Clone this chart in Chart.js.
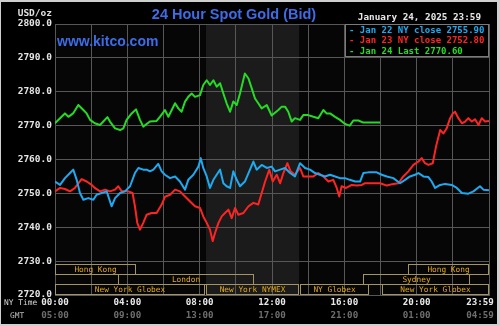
<!DOCTYPE html>
<html>
<head>
<meta charset="utf-8">
<script src="https://cdn.jsdelivr.net/npm/chart.js@4/dist/chart.umd.min.js"></script>
<style>
  html, body { margin: 0; padding: 0; background: #000; }
  #wrap { width: 500px; height: 326px; }
</style>
</head>
<body>
<div id="wrap"><canvas id="c" width="500" height="326"></canvas></div>
<script>
// ---------------- DATA (hours in NY time, price in USD/oz) ----------------
const blueT = [0,0.28,0.55,0.83,1.01,1.2,1.38,1.57,1.84,2.12,2.3,2.58,2.86,3.13,3.32,3.6,3.87,4.15,4.42,4.61,4.88,5.07,5.25,5.44,5.71,5.9,6.08,6.36,6.64,6.91,7.19,7.37,7.65,7.93,8.06,8.2,8.39,8.57,8.76,8.94,9.13,9.31,9.49,9.68,9.86,10.05,10.23,10.5,10.7,10.97,11.15,11.43,11.71,11.98,12.17,12.45,12.72,13.0,13.27,13.55,13.83,14.1,14.38,14.65,14.93,15.21,15.49,15.76,16.04,16.3,16.6,16.87,17.05,17.33,17.79,18.07,18.35,18.71,19.08,19.36,19.63,19.91,20.1,20.37,20.65,20.83,21.02,21.3,21.57,21.94,22.22,22.5,22.86,23.14,23.5,23.69,24];
const blueV = [2753.5,2752.5,2754.5,2756.0,2757.0,2754.0,2750.1,2748.1,2748.6,2748.1,2749.6,2750.1,2750.6,2746.2,2748.6,2750.1,2750.6,2752.1,2756.0,2757.5,2757.0,2757.0,2756.5,2757.0,2758.7,2756.5,2755.5,2754.5,2755.0,2753.5,2751.1,2754.0,2755.5,2757.9,2760.4,2757.5,2755.0,2751.6,2754.0,2755.5,2757.0,2753.0,2752.1,2751.6,2756.5,2754.0,2752.1,2753.5,2756.0,2759.4,2757.0,2758.4,2757.5,2757.9,2756.5,2757.0,2757.5,2756.0,2755.0,2758.9,2757.5,2757.0,2756.0,2755.5,2755.0,2755.5,2755.0,2754.5,2754.5,2754.0,2753.5,2753.5,2756.0,2756.2,2756.2,2755.5,2755.0,2754.5,2753.0,2754.0,2755.0,2755.5,2756.0,2755.0,2754.8,2753.5,2751.6,2752.5,2752.8,2752.5,2751.6,2750.1,2749.9,2750.6,2752.1,2751.1,2750.9];

const redT = [0,0.28,0.55,0.83,1.1,1.47,1.75,2.03,2.2,2.49,2.77,3.04,3.32,3.5,3.69,4.05,4.29,4.42,4.55,4.7,4.88,5.07,5.34,5.62,5.9,6.08,6.36,6.64,6.91,7.19,7.47,7.74,8.02,8.2,8.39,8.57,8.72,8.85,9.04,9.22,9.4,9.59,9.77,9.96,10.14,10.42,10.7,10.97,11.24,11.43,11.62,11.85,12.04,12.26,12.45,12.63,12.85,13.03,13.27,13.55,13.73,14.0,14.29,14.56,14.84,15.12,15.39,15.58,15.72,15.85,16.1,16.41,16.69,16.96,17.15,17.6,17.98,18.35,18.71,18.99,19.26,19.54,19.82,20.1,20.28,20.46,20.65,20.89,21.07,21.3,21.48,21.66,21.85,22.0,22.12,22.31,22.5,22.68,22.86,23.05,23.23,23.42,23.6,23.78,24];
const redV = [2750.6,2751.6,2751.3,2750.6,2751.6,2754.2,2753.5,2752.5,2751.6,2750.6,2751.1,2750.6,2751.1,2752.1,2750.6,2750.6,2750.1,2746.2,2741.3,2739.3,2741.3,2743.7,2744.2,2744.2,2746.7,2749.0,2749.6,2751.1,2750.6,2749.1,2747.6,2746.2,2745.7,2743.2,2741.3,2739.3,2735.9,2738.3,2741.3,2743.2,2744.2,2745.2,2742.7,2745.7,2743.7,2744.2,2746.2,2747.2,2746.7,2750.1,2753.5,2757.0,2753.5,2755.5,2753.0,2756.0,2758.9,2756.5,2755.5,2757.5,2755.0,2755.0,2755.0,2756.0,2755.0,2753.5,2754.0,2751.6,2749.1,2752.1,2751.6,2752.5,2752.3,2752.5,2753.0,2753.0,2753.0,2752.3,2752.8,2753.0,2755.0,2756.5,2758.4,2759.4,2760.4,2758.9,2758.4,2758.9,2763.8,2768.7,2767.7,2769.2,2772.2,2773.6,2774.1,2772.2,2770.7,2771.2,2772.2,2771.2,2771.9,2770.2,2772.2,2771.2,2771.4];

const greenT = [0,0.28,0.55,0.74,1.0,1.29,1.57,1.75,1.94,2.2,2.49,2.67,2.9,3.04,3.32,3.6,3.78,3.96,4.24,4.48,4.7,4.88,5.25,5.62,5.8,6.08,6.27,6.64,6.82,7.0,7.19,7.37,7.56,7.74,8.02,8.2,8.39,8.57,8.76,8.94,9.13,9.31,9.49,9.68,9.86,10.05,10.23,10.5,10.7,10.88,11.06,11.24,11.43,11.71,11.98,12.35,12.54,12.72,12.9,13.09,13.27,13.55,13.73,14.0,14.29,14.56,14.84,15.02,15.21,15.49,15.76,16.04,16.3,16.5,16.78,17.05,17.42,17.98];
const greenV = [2770.7,2772.2,2773.6,2772.6,2773.6,2776.1,2774.6,2773.6,2771.7,2770.7,2770.2,2771.2,2772.5,2771.2,2769.2,2768.7,2769.2,2771.7,2773.6,2774.8,2771.7,2769.7,2771.2,2771.4,2772.6,2774.6,2772.6,2776.6,2775.1,2774.1,2777.1,2778.5,2779.5,2778.5,2779.0,2782.0,2783.4,2782.0,2783.4,2781.5,2782.5,2779.5,2776.6,2774.1,2777.1,2776.1,2779.5,2785.4,2783.9,2781.0,2778.0,2776.6,2775.1,2776.1,2773.0,2774.6,2775.6,2775.6,2774.1,2771.2,2772.2,2771.7,2773.1,2773.1,2772.6,2772.2,2774.6,2773.6,2773.6,2772.6,2771.7,2770.5,2770.0,2771.5,2771.5,2770.9,2770.9,2770.9];

const seriesNames  = ['Jan 22 NY close', 'Jan 23 NY close', 'Jan 24 Last'];
const seriesCloses = [2755.90, 2752.80, 2770.60];
const seriesColors = ['#1eaaf0', '#ff2424', '#24dc24'];

const yTicks = [2720, 2730, 2740, 2750, 2760, 2770, 2780, 2790, 2800];
const xLabelHours = [0, 4, 8, 12, 16, 20, 24];
const nyLabels  = ['00:00', '04:00', '08:00', '12:00', '16:00', '20:00', '23:59'];
const gmtLabels = ['05:00', '09:00', '13:00', '17:00', '21:00', '01:00', '04:59'];

const sessionNames  = ['Hong Kong', 'London', 'New York Globex', 'New York NYMEX', 'NY Globex', 'Sydney', 'New York Globex', 'Hong Kong'];
const sessionStart  = [0, 3.48, 0, 8.35, 13.55, 17.03, 18.08, 19.52];
const sessionEnd    = [4.48, 11.0, 8.3, 13.5, 17.37, 22.95, 24, 24];
const sessionRow    = [0, 1, 2, 2, 2, 1, 2, 0];
const shadeStart = 8.35, shadeEnd = 13.5;

const titleText = '24 Hour Spot Gold (Bid)';
const siteText = 'www.kitco.com';
const dateText = 'January 24, 2025 23:59';
const unitText = 'USD/oz';

// ---------------- build ----------------
const zip = (t, v) => t.map((h, i) => ({ x: h, y: v[i] }));
const seriesData = [zip(blueT, blueV), zip(redT, redV), zip(greenT, greenV)];

const MONO = '"DejaVu Sans Mono", "Liberation Mono", monospace';
const SANS = '"Liberation Sans", Arial, sans-serif';
const GRID = '#575757';

const kitco = {
  id: 'kitco',
  beforeDraw(chart) {
    const { ctx, chartArea: a, scales: { x } } = chart;
    ctx.save();
    ctx.fillStyle = '#000';
    ctx.fillRect(0, 0, chart.width, chart.height);
    ctx.fillStyle = '#060606';
    ctx.fillRect(a.left, a.top, a.right - a.left, a.bottom - a.top);
    const s = x.getPixelForValue(shadeStart), e = x.getPixelForValue(shadeEnd);
    ctx.fillStyle = '#1b1b1b';
    ctx.fillRect(s, a.top, e - s, a.bottom - a.top);
    ctx.restore();
  },
  afterDraw(chart) {
    const { ctx, chartArea: a, scales: { x } } = chart;
    ctx.save();
    // sessions
    ctx.font = '7.8px ' + MONO;
    ctx.textAlign = 'center';
    ctx.textBaseline = 'middle';
    sessionNames.forEach((n, i) => {
      const x0 = Math.round(x.getPixelForValue(sessionStart[i]));
      const x1 = Math.round(x.getPixelForValue(sessionEnd[i]));
      const y0 = a.bottom - 31 + sessionRow[i] * 10;
      ctx.strokeStyle = '#a39462';
      ctx.lineWidth = 1;
      ctx.strokeRect(x0 + 0.5, y0 + 0.5, x1 - x0 - 1, 10);
      ctx.fillStyle = '#e3a91c';
      ctx.fillText(n, (x0 + x1) / 2, y0 + 5.5);
    });
    // title & site
    ctx.textBaseline = 'middle';
    ctx.fillStyle = '#3d6ce6';
    ctx.font = 'bold 14.5px ' + SANS;
    ctx.textAlign = 'center';
    ctx.fillText(titleText, 234, 15);
    ctx.font = 'bold 14px ' + SANS;
    ctx.textAlign = 'left';
    ctx.fillText(siteText, 57, 42);
    // unit
    ctx.font = 'bold 9.5px ' + MONO;
    ctx.fillStyle = '#e0e0e0';
    ctx.textAlign = 'right';
    ctx.fillText(unitText, 52, 14);
    // date
    ctx.font = 'bold 9.3px ' + MONO;
    ctx.fillStyle = '#e6e6e6';
    ctx.fillText(dateText, 481, 18);
    // legend box
    const lx = a.right - 144, ly = a.top;
    ctx.fillStyle = '#000';
    ctx.fillRect(lx, ly, 144, 32);
    ctx.strokeStyle = '#7a7a7a';
    ctx.strokeRect(lx + 0.5, ly + 0.5, 143, 32);
    ctx.textAlign = 'left';
    ctx.font = 'bold 9px ' + MONO;
    seriesNames.forEach((n, i) => {
      ctx.fillStyle = seriesColors[i];
      ctx.fillText('- ' + n + ' ' + seriesCloses[i].toFixed(2), lx + 4, ly + 6.5 + i * 10.5);
    });
    // x labels
    ctx.font = 'bold 9.2px ' + MONO;
    ctx.textAlign = 'center';
    xLabelHours.forEach((h, i) => {
      let px = x.getPixelForValue(h);
      px = Math.min(px, chart.width - 20);
      ctx.fillStyle = '#e8e8e8';
      ctx.fillText(nyLabels[i], px, 303);
      ctx.fillStyle = '#6e6e6e';
      ctx.fillText(gmtLabels[i], px, 315.5);
    });
    ctx.font = '7.9px ' + MONO;
    ctx.textAlign = 'left';
    ctx.fillStyle = '#d6d6d6';
    ctx.fillText('NY Time', 4, 303);
    ctx.fillStyle = '#bdbdbd';
    ctx.fillText('GMT', 10, 315.5);
    // outer frame
    ctx.fillStyle = '#cfcfcf';
    ctx.fillRect(0, 0, chart.width, 2);
    ctx.fillRect(0, chart.height - 2, chart.width, 2);
    ctx.fillRect(chart.width - 3, 0, 3, chart.height);
    ctx.fillRect(0, 0, 1, chart.height);
    ctx.restore();
  }
};

new Chart(document.getElementById('c'), {
  type: 'line',
  data: {
    datasets: seriesData.map((d, i) => ({
      label: seriesNames[i],
      data: d,
      borderColor: seriesColors[i],
      borderWidth: 2,
      pointRadius: 0,
      tension: 0,
      borderJoinStyle: 'round',
      fill: false
    }))
  },
  options: {
    responsive: false,
    devicePixelRatio: 1,
    animation: false,
    parsing: true,
    layout: { padding: { top: 24, right: 11, left: 0, bottom: 0 } },
    plugins: { legend: { display: false }, title: { display: false }, tooltip: { enabled: false } },
    scales: {
      x: {
        type: 'linear', min: 0, max: 24,
        ticks: { stepSize: 2, display: false },
        grid: { color: GRID, lineWidth: 1, drawTicks: false },
        border: { color: GRID },
        afterFit(s) { s.height = 31; }
      },
      y: {
        min: yTicks[0], max: yTicks[yTicks.length - 1],
        afterBuildTicks(s) { s.ticks = yTicks.map(v => ({ value: v })); },
        ticks: {
          padding: 3,
          color: '#e4e4e4',
          font: { family: MONO, size: 9.5, weight: 'bold' },
          callback: v => Number(v).toFixed(1)
        },
        grid: { color: GRID, lineWidth: 1, drawTicks: false },
        border: { color: GRID },
        afterFit(s) { s.width = 55; }
      }
    }
  },
  plugins: [kitco]
});
</script>
</body>
</html>
